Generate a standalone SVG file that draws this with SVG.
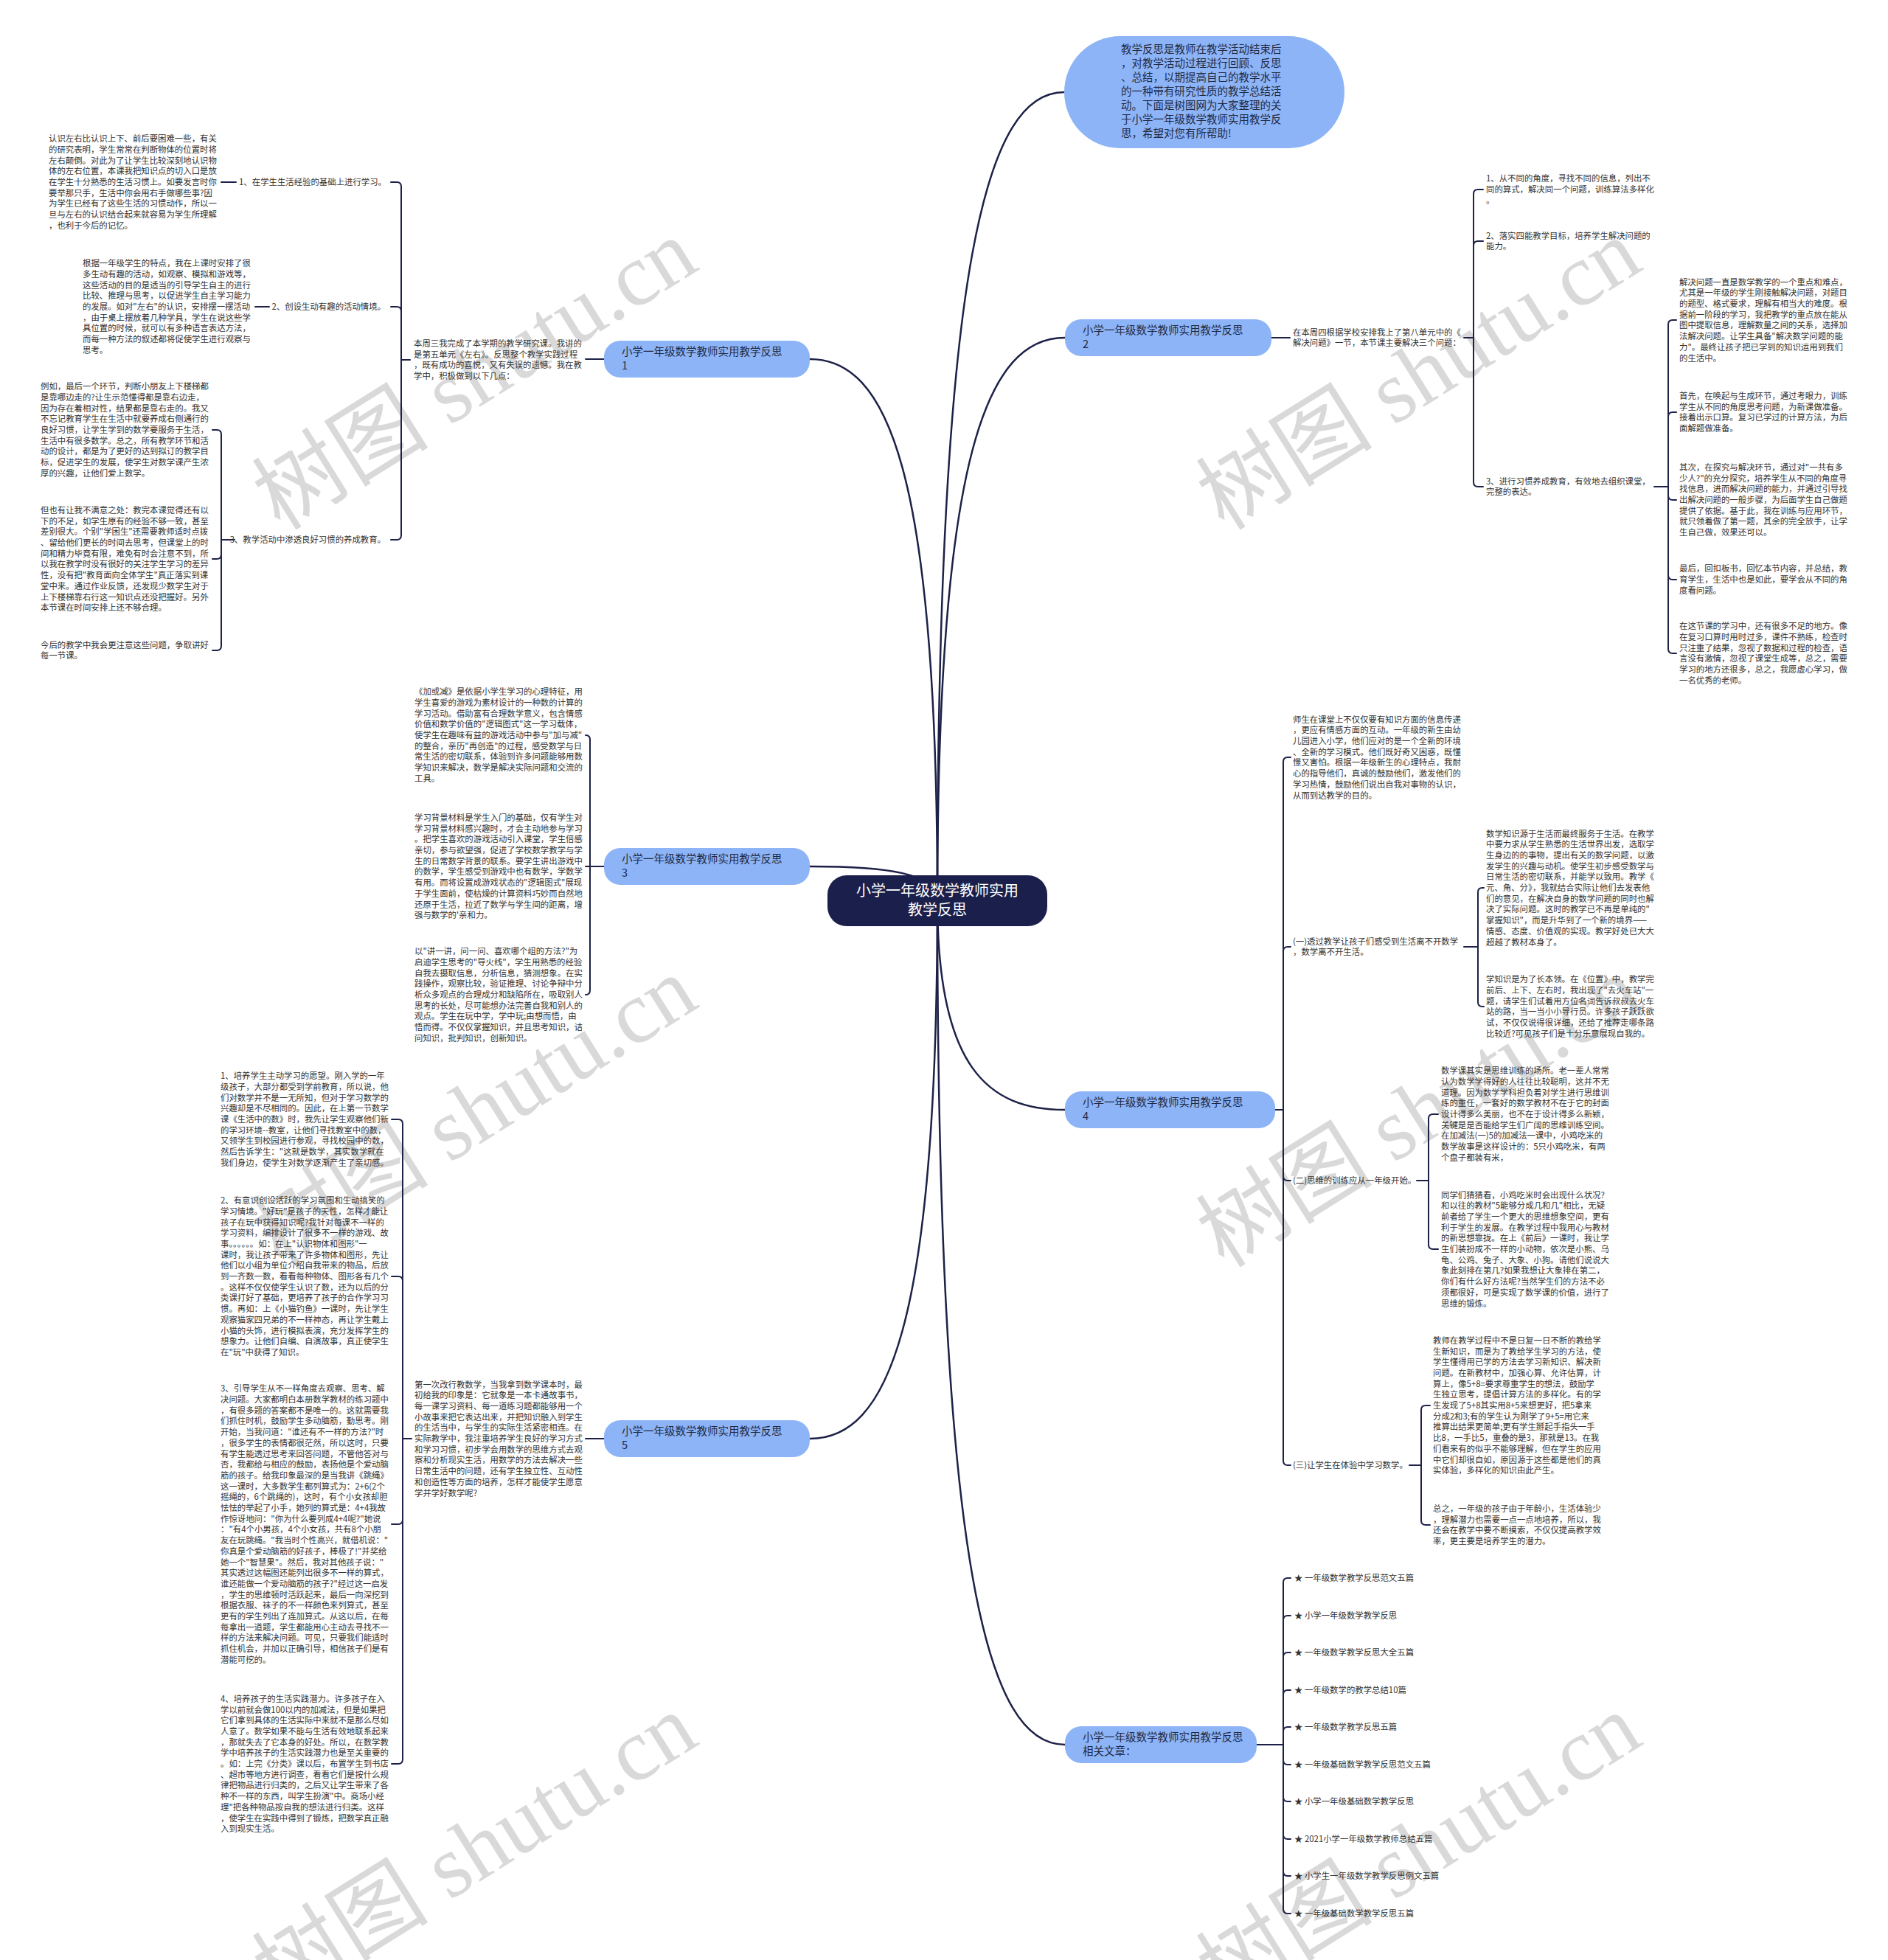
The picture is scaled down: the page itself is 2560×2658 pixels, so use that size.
<svg xmlns="http://www.w3.org/2000/svg" width="2560" height="2658" viewBox="0 0 2560 2658">
<style>
.t{font-family:"Noto Sans CJK SC","Noto Sans",sans-serif;font-size:11.4px;fill:#333}
.n{font-family:"Noto Sans CJK SC","Noto Sans",sans-serif;font-size:14.5px;fill:#1f2a44}
.c{font-family:"Noto Sans CJK SC","Noto Sans",sans-serif;font-size:20px;fill:#ffffff}
.nb{fill:#8db4f7}
.l{fill:none;stroke:#1d2147;stroke-width:2;stroke-linecap:round}
.m{fill:none;stroke:#1d2147;stroke-width:2.5}
.w{font-family:"Liberation Serif","Noto Sans CJK SC",serif;font-size:120px;fill:#d9d9d9}
</style>
<rect x="0" y="0" width="2560" height="2658" fill="#ffffff"/>
<g id="watermarks">
<text class="w" transform="translate(644,508) rotate(-32)" text-anchor="middle" dominant-baseline="central">树图 shutu.cn</text>
<text class="w" transform="translate(1924,508) rotate(-32)" text-anchor="middle" dominant-baseline="central">树图 shutu.cn</text>
<text class="w" transform="translate(644,1508) rotate(-32)" text-anchor="middle" dominant-baseline="central">树图 shutu.cn</text>
<text class="w" transform="translate(1924,1508) rotate(-32)" text-anchor="middle" dominant-baseline="central">树图 shutu.cn</text>
<text class="w" transform="translate(644,2508) rotate(-32)" text-anchor="middle" dominant-baseline="central">树图 shutu.cn</text>
<text class="w" transform="translate(1924,2508) rotate(-32)" text-anchor="middle" dominant-baseline="central">树图 shutu.cn</text>
</g>
<g id="connectors">
<path class="m" d="M1271 1221 C1271 344 1340 125 1443 125"/>
<path class="m" d="M1271 1221 C1271 634 1202 487 1098 487"/>
<path class="m" d="M1271 1221 C1271 611 1340 458 1444 458"/>
<path class="m" d="M1271 1221 C1271 1184 1202 1175 1098 1175"/>
<path class="m" d="M1271 1221 C1271 1448 1340 1505 1444 1505"/>
<path class="m" d="M1271 1221 C1271 1805 1202 1951 1098 1951"/>
<path class="m" d="M1271 1221 C1271 2137 1340 2366 1444 2366"/>
<!-- B1 -->
<path class="l" d="M819 487 H794"/>
<path class="l" d="M556 488 H544"/>
<path class="l" d="M544 488 V253 Q544 247 538 247 H530"/>
<path class="l" d="M544 488 V422 Q544 416 538 416 H530"/>
<path class="l" d="M544 488 V726 Q544 732 538 732 H530"/>
<path class="l" d="M320 247 H300"/>
<path class="l" d="M365 416 H346"/>
<path class="l" d="M318 732 H300"/>
<path class="l" d="M300 732 V589 Q300 583 294 583 H288"/>
<path class="l" d="M300 732 V752 Q300 758 294 758 H288"/>
<path class="l" d="M300 732 V876 Q300 882 294 882 H288"/>
<!-- B3 -->
<path class="l" d="M819 1175 H800"/>
<path class="l" d="M800 1175 V1003 Q800 997 794 997"/>
<path class="l" d="M800 1175 H794"/>
<path class="l" d="M800 1175 V1343 Q800 1349 794 1349"/>
<!-- B5 -->
<path class="l" d="M794 1951 H819"/>
<path class="l" d="M558 1951 H546"/>
<path class="l" d="M546 1951 V1524 Q546 1518 540 1518 H531"/>
<path class="l" d="M546 1951 V1737 Q546 1731 540 1731 H531"/>
<path class="l" d="M546 1951 V2061 Q546 2067 540 2067 H531"/>
<path class="l" d="M546 1951 V2386 Q546 2392 540 2392 H531"/>
<!-- B2 -->
<path class="l" d="M1724 458 H1749"/>
<path class="l" d="M1985 458 H1998"/>
<path class="l" d="M1998 458 V263 Q1998 257 2004 257 H2011"/>
<path class="l" d="M1998 458 V333 Q1998 327 2004 327 H2011"/>
<path class="l" d="M1998 458 V654 Q1998 660 2004 660 H2011"/>
<path class="l" d="M2243 660 H2262"/>
<path class="l" d="M2262 660 V440 Q2262 434 2268 434 H2273"/>
<path class="l" d="M2262 660 V565 Q2262 559 2268 559 H2273"/>
<path class="l" d="M2262 660 V672 Q2262 678 2268 678 H2273"/>
<path class="l" d="M2262 660 V780 Q2262 786 2268 786 H2273"/>
<path class="l" d="M2262 660 V880 Q2262 886 2268 886 H2273"/>
<!-- B4 -->
<path class="l" d="M1729 1505 H1740"/>
<path class="l" d="M1740 1505 V1033 Q1740 1027 1746 1027 H1750"/>
<path class="l" d="M1740 1505 V1290 Q1740 1284 1746 1284 H1750"/>
<path class="l" d="M1740 1505 V1595 Q1740 1601 1746 1601 H1750"/>
<path class="l" d="M1740 1505 V1981 Q1740 1987 1746 1987 H1750"/>
<path class="l" d="M1985 1284 H2004"/>
<path class="l" d="M2004 1284 V1210 Q2004 1204 2010 1204 H2012"/>
<path class="l" d="M2004 1284 V1359 Q2004 1365 2010 1365 H2012"/>
<path class="l" d="M1921 1601 H1937"/>
<path class="l" d="M1937 1601 V1517 Q1937 1511 1943 1511 H1950"/>
<path class="l" d="M1937 1601 V1688 Q1937 1694 1943 1694 H1950"/>
<path class="l" d="M1911 1987 H1927"/>
<path class="l" d="M1927 1987 V1912 Q1927 1906 1933 1906 H1939"/>
<path class="l" d="M1927 1987 V2062 Q1927 2068 1933 2068 H1939"/>
<!-- related -->
<path class="l" d="M1704 2366 H1740"/>
<path class="l" d="M1740 2366 V2146 Q1740 2140 1746 2140 H1750"/>
<path class="l" d="M1740 2366 V2197 Q1740 2191 1746 2191 H1750"/>
<path class="l" d="M1740 2366 V2247 Q1740 2241 1746 2241 H1750"/>
<path class="l" d="M1740 2366 V2298 Q1740 2292 1746 2292 H1750"/>
<path class="l" d="M1740 2366 V2348 Q1740 2342 1746 2342 H1750"/>
<path class="l" d="M1740 2366 V2387 Q1740 2393 1746 2393 H1750"/>
<path class="l" d="M1740 2366 V2437 Q1740 2443 1746 2443 H1750"/>
<path class="l" d="M1740 2366 V2488 Q1740 2494 1746 2494 H1750"/>
<path class="l" d="M1740 2366 V2538 Q1740 2544 1746 2544 H1750"/>
<path class="l" d="M1740 2366 V2589 Q1740 2595 1746 2595 H1750"/>
</g>

<g id="center">
<rect x="1122" y="1187" width="298" height="69" rx="26" fill="#1b1f4b"/>
<text class="c" x="1271" y="1215" text-anchor="middle">小学一年级数学教师实用</text>
<text class="c" x="1271" y="1241" text-anchor="middle">教学反思</text>
</g>

<g id="intro">
<rect x="1443" y="49" width="380" height="152" rx="76" class="nb"/>
<text class="n" y="72"><tspan x="1520">教学反思是教师在教学活动结束后</tspan><tspan x="1520" dy="19">，对教学活动过程进行回顾、反思</tspan><tspan x="1520" dy="19">、总结，以期提高自己的教学水平</tspan><tspan x="1520" dy="19">的一种带有研究性质的教学总结活</tspan><tspan x="1520" dy="19">动。下面是树图网为大家整理的关</tspan><tspan x="1520" dy="19">于小学一年级数学教师实用教学反</tspan><tspan x="1520" dy="19">思，希望对您有所帮助!</tspan></text>
</g>

<g id="b1">
<rect x="819" y="462" width="279" height="50" rx="22" class="nb"/>
<text class="n" x="843" y="482">小学一年级数学教师实用教学反思</text>
<text class="n" x="843" y="501">1</text>
</g>
<g id="b1-intro"><text class="t" y="470"><tspan x="561">本周三我完成了本学期的教学研究课。我讲的</tspan><tspan x="561" dy="14.7">是第五单元《左右》。反思整个教学实践过程</tspan><tspan x="561" dy="14.7">，既有成功的喜悦，又有失误的遗憾。我在教</tspan><tspan x="561" dy="14.7">学中，积极做到以下几点：</tspan></text></g>
<g id="b1-l1"><text class="t" x="524" y="251" text-anchor="end">1、在学生生活经验的基础上进行学习。</text></g>
<g id="b1-l2"><text class="t" x="523" y="420" text-anchor="end">2、创设生动有趣的活动情境。</text></g>
<g id="b1-l3"><text class="t" x="523" y="736" text-anchor="end">3、教学活动中渗透良好习惯的养成教育。</text></g>
<g id="b1-leaf1"><text class="t" y="192.2"><tspan x="66">认识左右比认识上下、前后要困难一些，有关</tspan><tspan x="66" dy="14.7">的研究表明，学生常常在判断物体的位置时将</tspan><tspan x="66" dy="14.7">左右颠倒。对此为了让学生比较深刻地认识物</tspan><tspan x="66" dy="14.7">体的左右位置，本课我把知识点的切入口是放</tspan><tspan x="66" dy="14.7">在学生十分熟悉的生活习惯上。如要发言时你</tspan><tspan x="66" dy="14.7">要举那只手，生活中你会用右手做哪些事?因</tspan><tspan x="66" dy="14.7">为学生已经有了这些生活的习惯动作，所以一</tspan><tspan x="66" dy="14.7">旦与左右的认识结合起来就容易为学生所理解</tspan><tspan x="66" dy="14.7">，也利于今后的记忆。</tspan></text></g>
<g id="b1-leaf2"><text class="t" y="361.2"><tspan x="112">根据一年级学生的特点，我在上课时安排了很</tspan><tspan x="112" dy="14.7">多生动有趣的活动，如观察、模拟和游戏等，</tspan><tspan x="112" dy="14.7">这些活动的目的是适当的引导学生自主的进行</tspan><tspan x="112" dy="14.7">比较、推理与思考，以促进学生自主学习能力</tspan><tspan x="112" dy="14.7">的发展。如对"左右"的认识，安排摆一摆活动</tspan><tspan x="112" dy="14.7">，由于桌上摆放着几种学具，学生在说这些学</tspan><tspan x="112" dy="14.7">具位置的时候，就可以有多种语言表达方法，</tspan><tspan x="112" dy="14.7">而每一种方法的叙述都将促使学生进行观察与</tspan><tspan x="112" dy="14.7">思考。</tspan></text></g>
<g id="b1-leaf3"><text class="t" y="528.2"><tspan x="55">例如，最后一个环节，判断小朋友上下楼梯都</tspan><tspan x="55" dy="14.7">是靠哪边走的?让生示范懂得都是靠右边走，</tspan><tspan x="55" dy="14.7">因为存在着相对性，结果都是靠右走的。我又</tspan><tspan x="55" dy="14.7">不忘记教育学生在生活中就要养成右侧通行的</tspan><tspan x="55" dy="14.7">良好习惯，让学生学到的数学要服务于生活，</tspan><tspan x="55" dy="14.7">生活中有很多数学。总之，所有教学环节和活</tspan><tspan x="55" dy="14.7">动的设计，都是为了更好的达到拟订的教学目</tspan><tspan x="55" dy="14.7">标，促进学生的发展，使学生对数学课产生浓</tspan><tspan x="55" dy="14.7">厚的兴趣，让他们爱上数学。</tspan></text></g>
<g id="b1-leaf4"><text class="t" y="695.9"><tspan x="55">但也有让我不满意之处：教完本课觉得还有以</tspan><tspan x="55" dy="14.7">下的不足，如学生原有的经验不够一致，甚至</tspan><tspan x="55" dy="14.7">差别很大。个别"学困生"还需要教师适时点拨</tspan><tspan x="55" dy="14.7">、留给他们更长的时间去思考，但课堂上的时</tspan><tspan x="55" dy="14.7">间和精力毕竟有限，难免有时会注意不到，所</tspan><tspan x="55" dy="14.7">以我在教学时没有很好的关注学生学习的差异</tspan><tspan x="55" dy="14.7">性，没有把"教育面向全体学生"真正落实到课</tspan><tspan x="55" dy="14.7">堂中来。通过作业反馈，还发现少数学生对于</tspan><tspan x="55" dy="14.7">上下楼梯靠右行这一知识点还没把握好。另外</tspan><tspan x="55" dy="14.7">本节课在时间安排上还不够合理。</tspan></text></g>
<g id="b1-leaf5"><text class="t" y="878.7"><tspan x="55">今后的教学中我会更注意这些问题，争取讲好</tspan><tspan x="55" dy="14.7">每一节课。</tspan></text></g>

<g id="b3">
<rect x="819" y="1150" width="279" height="50" rx="22" class="nb"/>
<text class="n" x="843" y="1170">小学一年级数学教师实用教学反思</text>
<text class="n" x="843" y="1189">3</text>
</g>
<g id="b3-t1"><text class="t" y="942.2"><tspan x="562">《加或减》是依据小学生学习的心理特征，用</tspan><tspan x="562" dy="14.7">学生喜爱的游戏为素材设计的一种数的计算的</tspan><tspan x="562" dy="14.7">学习活动。借助富有合理数学意义，包含情感</tspan><tspan x="562" dy="14.7">价值和数学价值的"逻辑图式"这一学习载体，</tspan><tspan x="562" dy="14.7">使学生在趣味有益的游戏活动中参与"加与减"</tspan><tspan x="562" dy="14.7">的整合，亲历"再创造"的过程，感受数学与日</tspan><tspan x="562" dy="14.7">常生活的密切联系，体验到许多问题能够用数</tspan><tspan x="562" dy="14.7">学知识来解决，数学是解决实际问题和交流的</tspan><tspan x="562" dy="14.7">工具。</tspan></text></g>
<g id="b3-t2"><text class="t" y="1112.9"><tspan x="562">学习背景材料是学生入门的基础，仅有学生对</tspan><tspan x="562" dy="14.7">学习背景材料感兴趣时，才会主动地参与学习</tspan><tspan x="562" dy="14.7">。把学生喜欢的游戏活动引入课堂，学生倍感</tspan><tspan x="562" dy="14.7">亲切，参与欲望强，促进了学校数学教学与学</tspan><tspan x="562" dy="14.7">生的日常数学背景的联系。要学生讲出游戏中</tspan><tspan x="562" dy="14.7">的数学，学生感受到游戏中也有数学，学数学</tspan><tspan x="562" dy="14.7">有用。而将设置成游戏状态的"逻辑图式"展现</tspan><tspan x="562" dy="14.7">于学生面前，使枯燥的计算资料巧妙而自然地</tspan><tspan x="562" dy="14.7">还原于生活，拉近了数学与学生间的距离，增</tspan><tspan x="562" dy="14.7">强与数学的'亲和力。</tspan></text></g>
<g id="b3-t3"><text class="t" y="1294.2"><tspan x="562">以"讲一讲，问一问、喜欢哪个组的方法?"为</tspan><tspan x="562" dy="14.7">启迪学生思考的"导火线"，学生用熟悉的经验</tspan><tspan x="562" dy="14.7">自我去摄取信息，分析信息，猜测想象。在实</tspan><tspan x="562" dy="14.7">践操作，观察比较，验证推理、讨论争辩中分</tspan><tspan x="562" dy="14.7">析众多观点的合理成分和缺陷所在，吸取别人</tspan><tspan x="562" dy="14.7">思考的长处，尽可能想办法完善自我和别人的</tspan><tspan x="562" dy="14.7">观点。学生在玩中学，学中玩;由想而悟，由</tspan><tspan x="562" dy="14.7">悟而得。不仅仅掌握知识，并且思考知识，诘</tspan><tspan x="562" dy="14.7">问知识，批判知识，创新知识。</tspan></text></g>

<g id="b5">
<rect x="819" y="1926" width="279" height="50" rx="22" class="nb"/>
<text class="n" x="843" y="1946">小学一年级数学教师实用教学反思</text>
<text class="n" x="843" y="1965">5</text>
</g>
<g id="b5-intro"><text class="t" y="1881.5"><tspan x="562">第一次改行教数学，当我拿到数学课本时，最</tspan><tspan x="562" dy="14.7">初给我的印象是：它就象是一本卡通故事书，</tspan><tspan x="562" dy="14.7">每一课学习资料、每一道练习题都能够用一个</tspan><tspan x="562" dy="14.7">小故事来把它表达出来，并把知识融入到学生</tspan><tspan x="562" dy="14.7">的生活当中，与学生的实际生活紧密相连。在</tspan><tspan x="562" dy="14.7">实际教学中，我注重培养学生良好的学习方式</tspan><tspan x="562" dy="14.7">和学习习惯，初步学会用数学的思维方式去观</tspan><tspan x="562" dy="14.7">察和分析现实生活，用数学的方法去解决一些</tspan><tspan x="562" dy="14.7">日常生活中的问题，还有学生独立性、互动性</tspan><tspan x="562" dy="14.7">和创造性等方面的培养，怎样才能使学生愿意</tspan><tspan x="562" dy="14.7">学并学好数学呢?</tspan></text></g>
<g id="b5-leaf1"><text class="t" y="1463.2"><tspan x="299">1、培养学生主动学习的愿望。刚入学的一年</tspan><tspan x="299" dy="14.7">级孩子，大部分都受到学前教育，所以说，他</tspan><tspan x="299" dy="14.7">们对数学并不是一无所知，但对于学习数学的</tspan><tspan x="299" dy="14.7">兴趣却是不尽相同的。因此，在上第一节数学</tspan><tspan x="299" dy="14.7">课《生活中的数》时，我先让学生观察他们新</tspan><tspan x="299" dy="14.7">的学习环境--教室，让他们寻找教室中的数，</tspan><tspan x="299" dy="14.7">又领学生到校园进行参观，寻找校园中的数，</tspan><tspan x="299" dy="14.7">然后告诉学生："这就是数学，其实数学就在</tspan><tspan x="299" dy="14.7">我们身边，使学生对数学逐渐产生了亲切感。</tspan></text></g>
<g id="b5-leaf2"><text class="t" y="1632.1"><tspan x="299">2、有意识创设活跃的学习氛围和生动搞笑的</tspan><tspan x="299" dy="14.7">学习情境。"好玩"是孩子的天性，怎样才能让</tspan><tspan x="299" dy="14.7">孩子在玩中获得知识呢?我针对每课不一样的</tspan><tspan x="299" dy="14.7">学习资料，编排设计了很多不一样的游戏、故</tspan><tspan x="299" dy="14.7">事。。。。。。如：在上"认识物体和图形"一</tspan><tspan x="299" dy="14.7">课时，我让孩子带来了许多物体和图形，先让</tspan><tspan x="299" dy="14.7">他们以小组为单位介绍自我带来的物品，后放</tspan><tspan x="299" dy="14.7">到一齐数一数，看看每种物体、图形各有几个</tspan><tspan x="299" dy="14.7">。这样不仅仅使学生认识了数，还为以后的分</tspan><tspan x="299" dy="14.7">类课打好了基础，更培养了孩子的合作学习习</tspan><tspan x="299" dy="14.7">惯。再如：上《小猫钓鱼》一课时，先让学生</tspan><tspan x="299" dy="14.7">观察猫家四兄弟的不一样神态，再让学生戴上</tspan><tspan x="299" dy="14.7">小猫的头饰，进行模拟表演，充分发挥学生的</tspan><tspan x="299" dy="14.7">想象力。让他们自编、自演故事，真正使学生</tspan><tspan x="299" dy="14.7">在"玩"中获得了知识。</tspan></text></g>
<g id="b5-leaf3"><text class="t" y="1887.3"><tspan x="299">3、引导学生从不一样角度去观察、思考、解</tspan><tspan x="299" dy="14.7">决问题。大家都明白本册数学教材的练习题中</tspan><tspan x="299" dy="14.7">，有很多题的答案都不是唯一的。这就需要我</tspan><tspan x="299" dy="14.7">们抓住时机，鼓励学生多动脑筋，勤思考。刚</tspan><tspan x="299" dy="14.7">开始，当我问道："谁还有不一样的方法?"时</tspan><tspan x="299" dy="14.7">，很多学生的表情都很茫然，所以这时，只要</tspan><tspan x="299" dy="14.7">有学生能透过思考来回答问题，不管他答对与</tspan><tspan x="299" dy="14.7">否，我都给与相应的鼓励，表扬他是个爱动脑</tspan><tspan x="299" dy="14.7">筋的孩子。给我印象最深的是当我讲《跳绳》</tspan><tspan x="299" dy="14.7">这一课时，大多数学生都列算式为：2+6(2个</tspan><tspan x="299" dy="14.7">摇绳的，6个跳绳的)，这时，有个小女孩却胆</tspan><tspan x="299" dy="14.7">怯怯的举起了小手，她列的算式是：4+4我故</tspan><tspan x="299" dy="14.7">作惊讶地问："你为什么要列成4+4呢?"她说</tspan><tspan x="299" dy="14.7">："有4个小男孩，4个小女孩，共有8个小朋</tspan><tspan x="299" dy="14.7">友在玩跳绳。"我当时个性高兴，就借机说："</tspan><tspan x="299" dy="14.7">你真是个爱动脑筋的好孩子，棒极了!"并奖给</tspan><tspan x="299" dy="14.7">她一个"智慧果"。然后，我对其他孩子说："</tspan><tspan x="299" dy="14.7">其实透过这幅图还能列出很多不一样的算式，</tspan><tspan x="299" dy="14.7">谁还能做一个爱动脑筋的孩子?"经过这一启发</tspan><tspan x="299" dy="14.7">，学生的思维顿时活跃起来，最后一向深挖到</tspan><tspan x="299" dy="14.7">根据衣服、袜子的不一样颜色来列算式，甚至</tspan><tspan x="299" dy="14.7">更有的学生列出了连加算式。从这以后，在每</tspan><tspan x="299" dy="14.7">每拿出一道题，学生都能用心主动去寻找不一</tspan><tspan x="299" dy="14.7">样的方法来解决问题。可见，只要我们能适时</tspan><tspan x="299" dy="14.7">抓住机会，并加以正确引导，相信孩子们是有</tspan><tspan x="299" dy="14.7">潜能可挖的。</tspan></text></g>
<g id="b5-leaf4"><text class="t" y="2307.8"><tspan x="299">4、培养孩子的生活实践潜力。许多孩子在入</tspan><tspan x="299" dy="14.7">学以前就会做100以内的加减法，但是如果把</tspan><tspan x="299" dy="14.7">它们拿到具体的生活实际中来就不是那么尽如</tspan><tspan x="299" dy="14.7">人意了。数学如果不能与生活有效地联系起来</tspan><tspan x="299" dy="14.7">，那就失去了它本身的好处。所以，在数学教</tspan><tspan x="299" dy="14.7">学中培养孩子的生活实践潜力也是至关重要的</tspan><tspan x="299" dy="14.7">。如：上完《分类》课以后，布置学生到书店</tspan><tspan x="299" dy="14.7">、超市等地方进行调查，看看它们是按什么规</tspan><tspan x="299" dy="14.7">律把物品进行归类的，之后又让学生带来了各</tspan><tspan x="299" dy="14.7">种不一样的东西，叫学生扮演"中。商场小经</tspan><tspan x="299" dy="14.7">理"把各种物品按自我的想法进行归类。这样</tspan><tspan x="299" dy="14.7">，使学生在实践中得到了锻炼，把数学真正融</tspan><tspan x="299" dy="14.7">入到现实生活。</tspan></text></g>

<g id="b2">
<rect x="1444" y="433" width="280" height="50" rx="22" class="nb"/>
<text class="n" x="1468" y="453">小学一年级数学教师实用教学反思</text>
<text class="n" x="1468" y="472">2</text>
</g>
<g id="b2-intro"><text class="t" y="454.7"><tspan x="1753">在本周四根据学校安排我上了第八单元中的《</tspan><tspan x="1753" dy="14.7">解决问题》一节，本节课主要解决三个问题：</tspan></text></g>
<g id="b2-i1"><text class="t" y="246.3"><tspan x="2015">1、从不同的角度，寻找不同的信息，列出不</tspan><tspan x="2015" dy="14.7">同的算式，解决同一个问题，训练算法多样化</tspan><tspan x="2015" dy="14.7">。</tspan></text></g>
<g id="b2-i2"><text class="t" y="323.7"><tspan x="2015">2、落实四能教学目标，培养学生解决问题的</tspan><tspan x="2015" dy="14.7">能力。</tspan></text></g>
<g id="b2-i3"><text class="t" y="656.7"><tspan x="2015">3、进行习惯养成教育，有效地去组织课堂，</tspan><tspan x="2015" dy="14.7">完整的表达。</tspan></text></g>
<g id="b2-leaf1"><text class="t" y="386.6"><tspan x="2277">解决问题一直是数学教学的一个重点和难点，</tspan><tspan x="2277" dy="14.7">尤其是一年级的学生刚接触解决问题，对题目</tspan><tspan x="2277" dy="14.7">的题型、格式要求，理解有相当大的难度。根</tspan><tspan x="2277" dy="14.7">据前一阶段的学习，我把教学的重点放在能从</tspan><tspan x="2277" dy="14.7">图中提取信息，理解数量之间的关系，选择加</tspan><tspan x="2277" dy="14.7">法解决问题。让学生具备"解决数学问题的能</tspan><tspan x="2277" dy="14.7">力"。最终让孩子把已学到的知识运用到我们</tspan><tspan x="2277" dy="14.7">的生活中。</tspan></text></g>
<g id="b2-leaf2"><text class="t" y="541"><tspan x="2277">首先，在唤起与生成环节，通过考眼力，训练</tspan><tspan x="2277" dy="14.7">学生从不同的角度思考问题，为新课做准备。</tspan><tspan x="2277" dy="14.7">接着出示口算。复习已学过的计算方法，为后</tspan><tspan x="2277" dy="14.7">面解题做准备。</tspan></text></g>
<g id="b2-leaf3"><text class="t" y="637.9"><tspan x="2277">其次，在探究与解决环节，通过对"一共有多</tspan><tspan x="2277" dy="14.7">少人?"的充分探究，培养学生从不同的角度寻</tspan><tspan x="2277" dy="14.7">找信息，进而解决问题的能力，并通过引导找</tspan><tspan x="2277" dy="14.7">出解决问题的一般步骤，为后面学生自己做题</tspan><tspan x="2277" dy="14.7">提供了依据。基于此，我在训练与应用环节，</tspan><tspan x="2277" dy="14.7">就只领着做了第一题，其余的完全放手，让学</tspan><tspan x="2277" dy="14.7">生自己做，效果还可以。</tspan></text></g>
<g id="b2-leaf4"><text class="t" y="775.3"><tspan x="2277">最后，回扣板书，回忆本节内容，并总结，教</tspan><tspan x="2277" dy="14.7">育学生，生活中也是如此，要学会从不同的角</tspan><tspan x="2277" dy="14.7">度看问题。</tspan></text></g>
<g id="b2-leaf5"><text class="t" y="853.3"><tspan x="2277">在这节课的学习中，还有很多不足的地方。像</tspan><tspan x="2277" dy="14.7">在复习口算时用时过多，课件不熟练，检查时</tspan><tspan x="2277" dy="14.7">只注重了结果，忽视了数据和过程的检查，语</tspan><tspan x="2277" dy="14.7">言没有激情，忽视了课堂生成等，总之，需要</tspan><tspan x="2277" dy="14.7">学习的地方还很多，总之，我愿虚心学习，做</tspan><tspan x="2277" dy="14.7">一名优秀的老师。</tspan></text></g>

<g id="b4">
<rect x="1444" y="1480" width="285" height="50" rx="22" class="nb"/>
<text class="n" x="1468" y="1500">小学一年级数学教师实用教学反思</text>
<text class="n" x="1468" y="1519">4</text>
</g>
<g id="b4-a"><text class="t" y="979.6"><tspan x="1753">师生在课堂上不仅仅要有知识方面的信息传递</tspan><tspan x="1753" dy="14.7">，更应有情感方面的互动。一年级的新生由幼</tspan><tspan x="1753" dy="14.7">儿园进入小学，他们应对的是一个全新的环境</tspan><tspan x="1753" dy="14.7">、全新的学习模式。他们既好奇又困惑，既懂</tspan><tspan x="1753" dy="14.7">憬又害怕。根据一年级新生的心理特点，我耐</tspan><tspan x="1753" dy="14.7">心的指导他们，真诚的鼓励他们，激发他们的</tspan><tspan x="1753" dy="14.7">学习热情，鼓励他们说出自我对事物的认识，</tspan><tspan x="1753" dy="14.7">从而到达教学的目的。</tspan></text></g>
<g id="b4-b"><text class="t" y="1280.7"><tspan x="1753">(一)透过教学让孩子们感受到生活离不开数学</tspan><tspan x="1753" dy="14.7">，数学离不开生活。</tspan></text></g>
<g id="b4-b1"><text class="t" y="1134.5"><tspan x="2015">数学知识源于生活而最终服务于生活。在教学</tspan><tspan x="2015" dy="14.7">中要力求从学生熟悉的生活世界出发，选取学</tspan><tspan x="2015" dy="14.7">生身边的的事物，提出有关的数学问题，以激</tspan><tspan x="2015" dy="14.7">发学生的兴趣与动机。使学生初步感受数学与</tspan><tspan x="2015" dy="14.7">日常生活的密切联系，并能学以致用。教学《</tspan><tspan x="2015" dy="14.7">元、角、分》，我就结合实际让他们去发表他</tspan><tspan x="2015" dy="14.7">们的意见，在解决自身的数学问题的同时也解</tspan><tspan x="2015" dy="14.7">决了实际问题。这时的教学已不再是单纯的"</tspan><tspan x="2015" dy="14.7">掌握知识"，而是升华到了一个新的境界——</tspan><tspan x="2015" dy="14.7">情感、态度、价值观的实现。教学好处已大大</tspan><tspan x="2015" dy="14.7">超越了教材本身了。</tspan></text></g>
<g id="b4-b2"><text class="t" y="1332.3"><tspan x="2015">学知识是为了长本领。在《位置》中，教学完</tspan><tspan x="2015" dy="14.7">前后、上下、左右时，我出现了"去火车站"一</tspan><tspan x="2015" dy="14.7">题，请学生们试着用方位名词告诉叔叔去火车</tspan><tspan x="2015" dy="14.7">站的路，当一当小小导行员。许多孩子跃跃欲</tspan><tspan x="2015" dy="14.7">试，不仅仅说得很详细，还给了推荐走哪条路</tspan><tspan x="2015" dy="14.7">比较近?可见孩子们是十分乐意展现自我的。</tspan></text></g>
<g id="b4-c"><text class="t" x="1753" y="1605">(二)思维的训练应从一年级开始。</text></g>
<g id="b4-c1"><text class="t" y="1456.2"><tspan x="1954">数学课其实是思维训练的场所。老一辈人常常</tspan><tspan x="1954" dy="14.7">认为数学学得好的人往往比较聪明，这并不无</tspan><tspan x="1954" dy="14.7">道理。因为数学学科担负着对学生进行思维训</tspan><tspan x="1954" dy="14.7">练的重任，一套好的数学教材不在于它的封面</tspan><tspan x="1954" dy="14.7">设计得多么美丽，也不在于设计得多么新颖，</tspan><tspan x="1954" dy="14.7">关键是是否能给学生们广阔的思维训练空间。</tspan><tspan x="1954" dy="14.7">在加减法(一)5的加减法一课中，小鸡吃米的</tspan><tspan x="1954" dy="14.7">数学故事是这样设计的：5只小鸡吃米，有两</tspan><tspan x="1954" dy="14.7">个盘子都装有米，</tspan></text></g>
<g id="b4-c2"><text class="t" y="1624.5"><tspan x="1954">同学们猜猜看，小鸡吃米时会出现什么状况?</tspan><tspan x="1954" dy="14.7">和以往的教材"5能够分成几和几"相比，无疑</tspan><tspan x="1954" dy="14.7">前者给了学生一个更大的思维想象空间，更有</tspan><tspan x="1954" dy="14.7">利于学生的发展。在教学过程中我用心与教材</tspan><tspan x="1954" dy="14.7">的新思想靠拢。在上《前后》一课时，我让学</tspan><tspan x="1954" dy="14.7">生们装扮成不一样的小动物，依次是小熊、乌</tspan><tspan x="1954" dy="14.7">龟、公鸡、兔子、大象、小狗。请他们说说大</tspan><tspan x="1954" dy="14.7">象此刻排在第几?如果我想让大象排在第二，</tspan><tspan x="1954" dy="14.7">你们有什么好方法呢?当然学生们的方法不必</tspan><tspan x="1954" dy="14.7">须都很好，可是实现了数学课的价值，进行了</tspan><tspan x="1954" dy="14.7">思维的锻炼。</tspan></text></g>
<g id="b4-d"><text class="t" x="1753" y="1991">(三)让学生在体验中学习数学。</text></g>
<g id="b4-d1"><text class="t" y="1821.8"><tspan x="1943">教师在教学过程中不是日复一日不断的教给学</tspan><tspan x="1943" dy="14.7">生新知识，而是为了教给学生学习的方法，使</tspan><tspan x="1943" dy="14.7">学生懂得用已学的方法去学习新知识、解决新</tspan><tspan x="1943" dy="14.7">问题。在新教材中，加强心算、允许估算，计</tspan><tspan x="1943" dy="14.7">算上，像5+8=要求尊重学生的想法，鼓励学</tspan><tspan x="1943" dy="14.7">生独立思考，提倡计算方法的多样化。有的学</tspan><tspan x="1943" dy="14.7">生发现了5+8其实用8+5来想更好，把5拿来</tspan><tspan x="1943" dy="14.7">分成2和3;有的学生认为刚学了9+5=用它来</tspan><tspan x="1943" dy="14.7">推算出结果更简单;更有学生掰起手指头一手</tspan><tspan x="1943" dy="14.7">比8，一手比5，重叠的是3，那就是13。在我</tspan><tspan x="1943" dy="14.7">们看来有的似乎不能够理解，但在学生的应用</tspan><tspan x="1943" dy="14.7">中它们却很自如，原因源于这些都是他们的真</tspan><tspan x="1943" dy="14.7">实体验，多样化的知识由此产生。</tspan></text></g>
<g id="b4-d2"><text class="t" y="2050"><tspan x="1943">总之，一年级的孩子由于年龄小，生活体验少</tspan><tspan x="1943" dy="14.7">，理解潜力也需要一点一点地培养，所以，我</tspan><tspan x="1943" dy="14.7">还会在教学中要不断摸索，不仅仅提高教学效</tspan><tspan x="1943" dy="14.7">率，更主要是培养学生的潜力。</tspan></text></g>

<g id="related">
<rect x="1444" y="2341" width="260" height="50" rx="22" class="nb"/>
<text class="n" x="1468" y="2361">小学一年级数学教师实用教学反思</text>
<text class="n" x="1468" y="2380">相关文章：</text>
</g>
<g id="related-list">
<text class="t" x="1755" y="2144">★ 一年级数学教学反思范文五篇</text>
<text class="t" x="1755" y="2195">★ 小学一年级数学教学反思</text>
<text class="t" x="1755" y="2245">★ 一年级数学教学反思大全五篇</text>
<text class="t" x="1755" y="2296">★ 一年级数学的教学总结10篇</text>
<text class="t" x="1755" y="2346">★ 一年级数学教学反思五篇</text>
<text class="t" x="1755" y="2397">★ 一年级基础数学教学反思范文五篇</text>
<text class="t" x="1755" y="2447">★ 小学一年级基础数学教学反思</text>
<text class="t" x="1755" y="2498">★ 2021小学一年级数学教师总结五篇</text>
<text class="t" x="1755" y="2548">★ 小学生一年级数学教学反思例文五篇</text>
<text class="t" x="1755" y="2599">★ 一年级基础数学教学反思五篇</text>
</g>
</svg>
